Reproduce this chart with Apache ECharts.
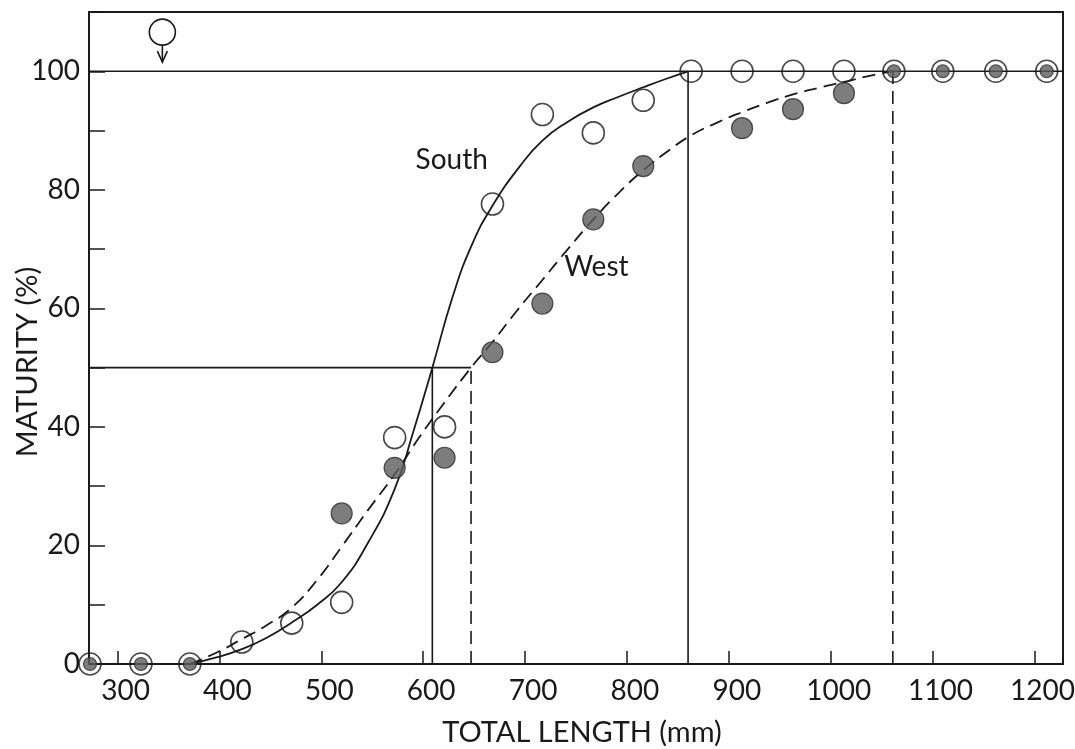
<!DOCTYPE html>
<html>
<head>
<meta charset="utf-8">
<script src="https://cdn.jsdelivr.net/npm/echarts@6/dist/echarts.min.js"></script>
<style>
  html, body { margin: 0; padding: 0; background: #ffffff; }
  #chart { width: 1075px; height: 749px; }
</style>
</head>
<body>
<div id="chart"></div>
<script>
// 数据：体长 (mm) 与成熟度 (%)
const southLength = [273, 323, 371, 422, 471, 520, 572, 621, 668, 717, 767, 816, 863, 913, 963, 1013, 1062, 1110, 1162, 1212];
const southMaturity = [0, 0, 0, 3.7, 6.9, 10.4, 38.2, 40, 77.6, 92.7, 89.6, 95.1, 100, 100, 100, 100, 100, 100, 100, 100];

const westLength = [273, 323, 371, 520, 572, 621, 668, 717, 767, 816, 913, 963, 1013, 1062, 1110, 1162, 1212];
const westMaturity = [0, 0, 0, 25.4, 33.1, 34.8, 52.6, 60.8, 75.0, 84.0, 90.4, 93.6, 96.3, 100, 100, 100, 100];

// 拟合曲线（沿曲线读点）
const southCurveLength = [371, 397, 422, 446, 471, 496, 520, 546, 572, 590, 609, 629, 648, 668, 695, 717, 742, 767, 792, 816, 838, 860];
const southCurveMaturity = [0, 1.1, 2.5, 4.4, 7.0, 10.0, 13.8, 20.5, 29.5, 39, 50, 62, 70.8, 77.3, 84, 88.3, 91.5, 93.9, 95.7, 97.3, 98.7, 100];

const westCurveLength = [371, 397, 422, 446, 471, 496, 520, 546, 572, 596, 620, 647, 668, 692, 718, 742, 767, 792, 816, 840, 863, 888, 913, 938, 963, 988, 1013, 1037, 1061];
const westCurveMaturity = [0, 1.9, 4.2, 6.5, 9.5, 14.2, 19.8, 26, 32, 38.2, 43.9, 50, 54.3, 59.6, 65, 70, 75, 79.5, 83.3, 86.5, 89.2, 91.3, 93.1, 94.7, 96.1, 97.2, 98.2, 99.2, 100];

// 50% 和 100% 对应的体长
const south50 = 609, west50 = 647;
const south100 = 860, west100 = 1061;

const xTicks = [300, 400, 500, 600, 700, 800, 900, 1000, 1100, 1200];
const yTicks = [0, 20, 40, 60, 80, 100];

const xMin = 272, xMax = 1228;
const FONT = "Lato";
const INK = "#1a1a1a";

const zip = (xs, ys) => xs.map((x, i) => [x, ys[i]]);
const southPts = zip(southLength, southMaturity);
const westPts = zip(westLength, westMaturity);
const sameAsSouth = (p) => southPts.some((s) => s[0] === p[0] && s[1] === p[1]);

const guide = (pts, dashed) => ({
  type: "line",
  data: pts,
  symbol: "none",
  silent: true,
  lineStyle: { color: INK, width: 1.6, type: dashed ? [13, 7] : "solid" },
  z: 2,
});

const chart = echarts.init(document.getElementById("chart"));
chart.setOption({
  backgroundColor: "#ffffff",
  animation: false,
  textStyle: { fontFamily: FONT, color: INK },
  grid: {
    left: 89, right: 12, top: 12, bottom: 85,
    show: true, borderColor: INK, borderWidth: 2,
    outerBoundsMode: "none",
  },
  xAxis: {
    type: "value",
    min: xMin,
    max: xMax,
    name: "TOTAL LENGTH (mm)",
    nameLocation: "middle",
    nameGap: 54,
    nameMoveOverlap: false,
    nameTextStyle: { fontSize: 29, fontFamily: FONT, color: INK, padding: [0, 0, 0, 12] },
    axisLine: { show: true, lineStyle: { color: INK, width: 2 } },
    axisTick: { show: true, inside: true, length: 13, customValues: xTicks, lineStyle: { color: INK, width: 1.5 } },
    axisLabel: {
      customValues: xTicks,
      fontSize: 28,
      color: INK,
      margin: 13,
      padding: [0, 0, 0, 16],
      formatter: (v) => String(v),
    },
    splitLine: { show: false },
  },
  yAxis: {
    type: "value",
    min: 0,
    max: 110,
    interval: 10,
    name: "MATURITY (%)",
    nameLocation: "middle",
    nameGap: 47,
    nameMoveOverlap: false,
    nameTextStyle: { fontSize: 29, fontFamily: FONT, color: INK, padding: [0, 48, 0, 0] },
    axisLine: { show: true, lineStyle: { color: INK, width: 2 } },
    axisTick: { show: true, inside: true, length: 16, lineStyle: { color: INK, width: 1.5 } },
    axisLabel: {
      fontSize: 28,
      color: INK,
      margin: 9,
      formatter: (v) => (yTicks.indexOf(v) >= 0 ? String(v) : ""),
    },
    splitLine: { show: false },
  },
  series: [
    guide([[xMin, 100], [xMax, 100]], false),
    guide([[xMin, 50], [west50, 50]], false),
    guide([[south50, 0], [south50, 50]], false),
    guide([[west50, 0], [west50, 50]], true),
    guide([[south100, 0], [south100, 100]], false),
    guide([[west100, 0], [west100, 100]], true),
    {
      name: "South",
      type: "line",
      data: zip(southCurveLength, southCurveMaturity),
      smooth: 0.5,
      symbol: "none",
      lineStyle: { color: INK, width: 1.8 },
      z: 3,
    },
    {
      name: "West",
      type: "line",
      data: zip(westCurveLength, westCurveMaturity),
      smooth: 0.5,
      symbol: "none",
      lineStyle: { color: INK, width: 1.8, type: [13, 7] },
      z: 3,
    },
    {
      name: "South obs",
      type: "scatter",
      data: southPts,
      symbol: "circle",
      symbolSize: 22,
      clip: false,
      itemStyle: { color: "rgba(255,255,255,0)", borderColor: INK, borderWidth: 1.6 },
      z: 5,
    },
    {
      name: "West obs",
      type: "scatter",
      data: westPts,
      symbol: "circle",
      symbolSize: (val) => (sameAsSouth(val) ? 13 : 21),
      clip: false,
      itemStyle: { color: "#5c5c5c", borderColor: "#2b2b2b", borderWidth: 1.2 },
      z: 6,
    },
  ],
});

// 标注文字和♂符号
const txt = (label, pos) => {
  const p = chart.convertToPixel({ gridIndex: 0 }, pos);
  return {
    type: "text",
    x: p[0],
    y: p[1],
    style: { text: label, font: "28px " + FONT, fill: INK, align: "center", verticalAlign: "middle" },
    z: 10,
  };
};
const m = chart.convertToPixel({ gridIndex: 0 }, [344, 106.6]);
chart.setOption({
  graphic: [
    txt("South", [628, 85]),
    txt("West", [770, 67]),
    {
      type: "group",
      x: m[0],
      y: m[1],
      z: 10,
      children: [
        { type: "circle", shape: { cx: 0, cy: 0, r: 13 }, style: { fill: "none", stroke: INK, lineWidth: 1.6 } },
        { type: "line", shape: { x1: 0, y1: 13, x2: 0, y2: 30 }, style: { stroke: INK, lineWidth: 1.6 } },
        { type: "polyline", shape: { points: [[-5, 19], [0, 30], [5, 19]] }, style: { fill: "none", stroke: INK, lineWidth: 1.6 } },
      ],
    },
  ],
});
</script>
</body>
</html>
